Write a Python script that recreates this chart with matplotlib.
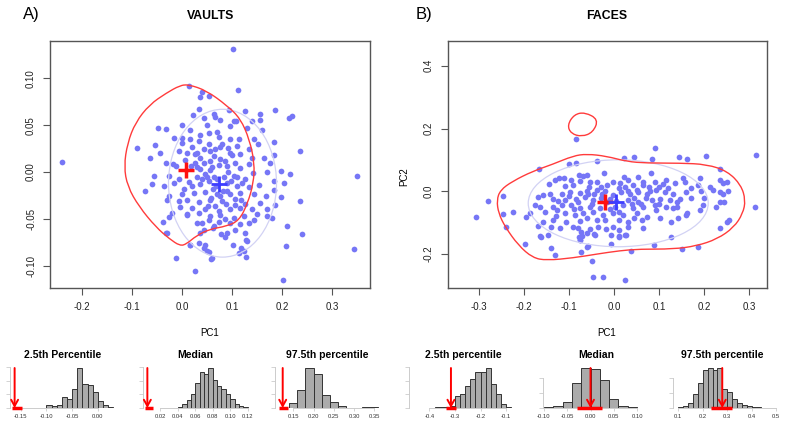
import numpy as np
import matplotlib
matplotlib.use('Agg')
import matplotlib.pyplot as plt
from matplotlib.path import Path
from matplotlib.patches import PathPatch, Ellipse
from matplotlib.ticker import FixedLocator, FormatStrFormatter, MaxNLocator, NullFormatter

plt.rcParams['font.family'] = ['Liberation Sans', 'DejaVu Sans']
plt.rcParams['axes.unicode_minus'] = False

W, H = 787, 430

# ---- panel A (VAULTS) points: PC1, PC2 ----
vaults_pts = [
    (0.101, 0.131), (0.111, 0.088), (0.013, 0.092), (0.039, 0.086), (0.035, 0.080), (0.053, 0.081),
    (0.186, 0.066), (0.214, 0.058), (0.156, 0.062), (0.155, 0.056), (0.033, 0.067), (0.021, 0.061),
    (0.063, 0.062), (0.043, 0.058), (0.065, 0.059), (0.076, 0.056), (0.103, 0.055), (0.108, 0.054),
    (-0.001, 0.050), (-0.049, 0.047), (-0.033, 0.046), (0.016, 0.045), (0.049, 0.050), (0.069, 0.043),
    (0.096, 0.049), (0.129, 0.047), (0.053, 0.042), (-0.017, 0.036), (-0.001, 0.036), (0.036, 0.039),
    (0.073, 0.037), (0.113, 0.035), (0.143, 0.035), (0.184, 0.032), (0.151, 0.030), (-0.054, 0.029),
    (-0.091, 0.026), (-0.001, 0.031), (0.033, 0.033), (0.053, 0.030), (0.019, 0.027), (0.043, 0.025),
    (0.076, 0.027), (0.091, 0.026), (0.109, 0.028), (0.133, 0.025), (-0.007, 0.022), (0.009, 0.020),
    (0.026, 0.019), (0.056, 0.022), (0.096, 0.020), (0.116, 0.019), (0.184, 0.018), (0.163, 0.015),
    (0.006, 0.013), (0.036, 0.015), (0.063, 0.017), (0.076, 0.014), (0.099, 0.018), (0.106, 0.010),
    (-0.033, 0.010), (-0.019, 0.009), (-0.013, 0.006), (0.026, 0.010), (0.043, 0.010), (0.055, 0.012),
    (0.133, 0.009), (0.073, 0.007), (0.017, 0.006), (0.036, 0.003), (0.056, 0.002), (0.089, 0.006),
    (0.116, 0.004), (0.141, -0.001), (0.169, 0.000), (0.198, 0.001), (0.215, -0.002), (0.236, 0.022),
    (-0.057, -0.004), (-0.027, -0.004), (-0.007, -0.008), (0.029, -0.005), (0.046, -0.002), (0.063, -0.005),
    (0.103, -0.004), (0.126, -0.007), (-0.061, -0.013), (-0.037, -0.015), (-0.017, -0.012), (0.013, -0.011),
    (0.036, -0.013), (0.053, -0.010), (0.089, -0.012), (0.109, -0.015), (0.133, -0.016), (0.153, -0.014),
    (0.183, -0.010), (0.204, -0.012), (0.183, -0.019), (-0.027, -0.026), (-0.001, -0.024), (0.023, -0.022),
    (0.046, -0.021), (0.069, -0.023), (0.096, -0.024), (0.116, -0.022), (0.143, -0.024), (0.168, -0.026),
    (0.198, -0.027), (0.236, -0.031), (-0.031, -0.030), (-0.007, -0.031), (0.009, -0.030), (0.033, -0.032),
    (0.056, -0.030), (0.079, -0.031), (0.106, -0.029), (0.126, -0.034), (0.156, -0.033), (0.186, -0.035),
    (-0.004, -0.037), (0.019, -0.039), (0.046, -0.040), (0.073, -0.042), (0.096, -0.040), (0.116, -0.039),
    (0.139, -0.040), (0.169, -0.040), (-0.021, -0.044), (-0.027, -0.048), (0.009, -0.046), (0.033, -0.044),
    (0.056, -0.047), (0.076, -0.046), (0.103, -0.049), (0.123, -0.047), (0.143, -0.051), (0.169, -0.047),
    (0.179, -0.049), (-0.039, -0.053), (0.029, -0.054), (0.053, -0.051), (0.073, -0.053), (0.096, -0.055),
    (0.116, -0.056), (0.133, -0.055), (0.209, -0.058), (-0.033, -0.065), (0.043, -0.062), (0.063, -0.058),
    (0.106, -0.062), (0.126, -0.065), (0.036, -0.065), (0.016, -0.078), (0.043, -0.081), (0.053, -0.085),
    (0.101, -0.078), (0.113, -0.087), (0.129, -0.074), (0.128, -0.091), (0.059, -0.092), (-0.013, -0.092),
    (0.025, -0.106), (0.208, -0.079), (0.201, -0.115), (-0.241, 0.011), (0.239, -0.066), (0.343, -0.082),
    (0.015, -0.078), (0.033, -0.076), (0.046, -0.078), (0.049, -0.084), (0.058, -0.093), (0.117, -0.081),
    (0.127, -0.073), (0.124, -0.084), (0.086, -0.070), (0.077, -0.066), (-0.031, -0.065), (0.350, -0.004),
    (0.062, -0.018), (0.081, -0.020), (0.070, -0.008), (0.058, -0.028), (0.088, -0.034), (0.066, -0.036),
    (0.092, 0.000), (0.080, 0.030), (0.020, -0.015), (0.004, -0.018), (0.030, 0.005), (0.110, -0.005),
    (0.118, -0.030), (0.085, -0.050), (0.040, -0.055), (0.150, -0.045), (0.160, 0.045), (0.140, 0.055),
    (0.125, 0.065), (0.093, 0.066), (0.175, 0.010), (-0.075, -0.020), (-0.045, 0.020), (-0.065, 0.015),
    (0.220, 0.060), (0.050, -0.005), (0.060, 0.005), (0.083, -0.005), (0.098, -0.010), (0.068, -0.015),
    (0.040, -0.008), (0.090, -0.020), (0.075, -0.026), (0.052, -0.036), (0.085, 0.012), (0.065, 0.025),
    (0.030, 0.020), (0.105, -0.035), (0.120, -0.012), (0.095, 0.035), (0.015, 0.035), (0.010, -0.045),
    (0.062, -0.060), (0.090, -0.065), (0.140, 0.015),
]

# ---- panel B (FACES) points ----
faces_pts = [
    (-0.084, 0.166), (0.090, 0.137), (0.315, 0.115), (0.022, 0.107), (0.045, 0.110), (0.084, 0.102),
    (0.144, 0.108), (0.161, 0.102), (0.204, 0.113), (-0.039, 0.098), (-0.100, 0.087), (-0.084, 0.089),
    (-0.168, 0.071), (0.235, 0.071), (0.081, 0.060), (-0.023, 0.059), (-0.078, 0.052), (-0.070, 0.050),
    (-0.060, 0.052), (0.022, 0.047), (0.053, 0.047), (-0.122, 0.041), (-0.111, 0.043), (-0.132, 0.036),
    (-0.096, 0.036), (-0.076, 0.033), (-0.039, 0.031), (-0.002, 0.031), (0.031, 0.036), (0.064, 0.031),
    (0.090, 0.031), (0.115, 0.036), (0.153, 0.043), (0.190, 0.041), (0.235, 0.036), (0.250, 0.031),
    (0.241, 0.028), (-0.053, 0.029), (-0.145, 0.023), (-0.110, 0.018), (-0.091, 0.020), (-0.055, 0.015),
    (-0.017, 0.020), (0.012, 0.025), (0.025, 0.015), (0.042, 0.020), (0.064, 0.020), (0.078, 0.015),
    (0.109, 0.023), (0.136, 0.025), (0.157, 0.031), (0.187, 0.020), (0.213, 0.013), (0.220, 0.004),
    (0.253, 0.001), (0.235, -0.001), (-0.158, -0.012), (-0.143, -0.009), (-0.117, -0.007), (-0.098, -0.001),
    (-0.076, -0.004), (-0.058, -0.007), (-0.039, 0.004), (-0.026, -0.007), (-0.002, -0.012), (0.016, -0.001),
    (0.035, -0.007), (0.053, -0.001), (0.072, -0.007), (0.094, 0.004), (0.113, -0.001), (0.131, -0.007),
    (0.159, -0.001), (0.194, 0.002), (0.242, -0.007), (-0.169, -0.017), (-0.137, -0.026), (-0.110, -0.028),
    (-0.084, -0.026), (-0.065, -0.017), (-0.047, -0.028), (-0.010, -0.023), (0.031, -0.028), (0.053, -0.033),
    (0.083, -0.028), (0.102, -0.023), (0.124, -0.028), (0.146, -0.026), (0.198, -0.044), (0.235, -0.033),
    (0.245, -0.033), (0.313, -0.049), (-0.248, -0.015), (-0.281, -0.032), (-0.176, -0.042), (-0.165, -0.049),
    (-0.136, -0.049), (-0.117, -0.044), (-0.095, -0.042), (-0.076, -0.054), (-0.054, -0.049), (-0.032, -0.054),
    (0.001, -0.049), (0.020, -0.044), (0.042, -0.054), (0.064, -0.049), (0.094, -0.060), (0.115, -0.051),
    (0.131, -0.054), (0.162, -0.070), (0.227, -0.049), (-0.224, -0.065), (-0.247, -0.073), (-0.186, -0.070),
    (-0.154, -0.065), (-0.128, -0.060), (-0.110, -0.070), (-0.087, -0.076), (-0.069, -0.070), (-0.047, -0.065),
    (-0.024, -0.076), (-0.002, -0.070), (0.020, -0.076), (0.050, -0.070), (0.072, -0.081), (0.102, -0.086),
    (0.190, -0.060), (-0.136, -0.092), (-0.158, -0.097), (-0.106, -0.097), (-0.076, -0.094), (-0.039, -0.092),
    (0.011, -0.090), (0.031, -0.097), (0.061, -0.092), (0.127, -0.097), (0.141, -0.086), (0.159, -0.076),
    (0.251, -0.097), (0.255, -0.092), (0.235, -0.118), (-0.195, -0.083), (-0.240, -0.115), (-0.141, -0.113),
    (-0.121, -0.118), (-0.091, -0.113), (-0.080, -0.118), (-0.054, -0.121), (-0.036, -0.113), (-0.019, -0.121),
    (-0.002, -0.115), (0.011, -0.123), (0.031, -0.113), (0.064, -0.118), (-0.165, -0.142), (-0.170, -0.111),
    (-0.078, -0.147), (-0.061, -0.134), (-0.043, -0.139), (-0.006, -0.139), (0.011, -0.145), (0.026, -0.139),
    (0.127, -0.145), (-0.076, -0.156), (-0.073, -0.129), (-0.061, -0.177), (-0.073, -0.193), (0.088, -0.171),
    (0.150, -0.185), (0.187, -0.177), (0.037, -0.190), (-0.198, -0.168), (-0.141, -0.182), (-0.132, -0.203),
    (-0.049, -0.222), (-0.047, -0.272), (-0.024, -0.272), (0.025, -0.283), (-0.306, -0.081), (-0.163, -0.144),
    (-0.148, -0.138), (-0.072, -0.142), (-0.075, -0.155), (-0.059, -0.174), (-0.044, -0.136), (-0.006, -0.169),
    (0.010, -0.142), (0.025, -0.138), (-0.030, -0.020), (-0.015, -0.035), (0.005, -0.030), (-0.050, -0.040),
    (0.045, -0.020), (0.060, -0.040), (-0.090, -0.055), (0.080, 0.000), (0.100, -0.040), (-0.020, 0.000),
    (0.010, 0.010), (0.030, 0.000), (-0.060, 0.000), (0.170, -0.020), (0.140, -0.050),
    (-0.045, -0.010), (-0.030, 0.015), (-0.010, -0.055), (0.040, -0.040), (0.070, -0.020), (0.090, -0.045),
    (-0.080, -0.035), (-0.100, -0.015), (-0.125, -0.030), (0.120, 0.010), (0.140, -0.035), (0.010, -0.065),
    (-0.060, -0.085), (0.050, 0.005), (0.100, 0.015), (-0.020, -0.090), (0.045, -0.085), (-0.130, -0.080),
    (0.170, 0.010), (0.200, -0.020),
]

# red density contours (vertices)
vaults_contour = [
    (0.013, 0.0935), (0.049, 0.087), (0.090, 0.071), (0.117, 0.057), (0.135, 0.0345), (0.145, 0.0096),
    (0.143, -0.0118), (0.131, -0.034), (0.114, -0.052), (0.089, -0.058), (0.056, -0.061), (0.029, -0.068),
    (0.009, -0.077), (-0.004, -0.079), (-0.025, -0.0715), (-0.052, -0.059), (-0.086, -0.0370),
    (-0.109, -0.0154), (-0.116, 0.006), (-0.109, 0.031), (-0.093, 0.053), (-0.065, 0.072),
    (-0.031, 0.0845), (-0.004, 0.0925),
]
faces_contour = [
    (-0.261, -0.028), (-0.253, 0.004), (-0.226, 0.032), (-0.181, 0.064), (-0.137, 0.086), (-0.091, 0.113),
    (-0.061, 0.119), (-0.017, 0.112), (0.028, 0.095), (0.072, 0.090), (0.146, 0.090), (0.206, 0.086),
    (0.252, 0.064), (0.282, 0.020), (0.292, -0.028), (0.286, -0.071), (0.266, -0.115), (0.229, -0.152),
    (0.183, -0.174), (0.131, -0.184), (0.057, -0.184), (0.013, -0.189), (-0.039, -0.200), (-0.091, -0.212),
    (-0.150, -0.220), (-0.181, -0.212), (-0.213, -0.172), (-0.242, -0.114), (-0.257, -0.070),
]
faces_contour_small = [
    (-0.104, 0.211), (-0.089, 0.245), (-0.065, 0.252), (-0.035, 0.229), (-0.047, 0.188), (-0.072, 0.174),
    (-0.096, 0.184),
]

# blue ellipse (centre, width, height) and mean / reference crosses
vaults_ellipse = ((0.081, -0.012), 0.216, 0.158)
faces_ellipse = ((0.009, -0.038), 0.400, 0.277)
vaults_red, vaults_blue = (0.007, 0.0017), (0.073, -0.0128)
faces_red, faces_blue = (-0.021, -0.035), (0.003, -0.033)

# ---- bootstrap histograms: bin start, bin width, counts, observed value, red interval ----
h_titles = ['2.5th Percentile', 'Median', '97.5th percentile',
            '2.5th percentile', 'Median', '97.5th percentile']
h_start = [-0.13, 0.025, 0.14, -0.46, -0.12, 0.08]
h_width = [0.01, 0.005, 0.02, 0.02, 0.02, 0.02]
h_counts = [
    [1, 1, 1, 10, 5, 8, 33, 27, 57, 117, 70, 66, 47, 20, 10, 3],
    [0.5, 0.5, 1, 3, 12, 22, 40, 73, 105, 100, 117, 83, 63, 55, 40, 25, 12, 5, 2],
    [15, 52, 117, 99, 37, 19, 5, 1, 1, 2, 2],
    [1, 1, 1, 1, 2, 2, 4, 6, 35, 42, 63, 85, 105, 105, 117, 70, 40, 13, 2],
    [0.5, 1, 2, 6, 25, 40, 39, 28, 9, 2, 1, 0.5],
    [0.5, 1, 2, 5, 14, 25, 38, 40, 38, 40, 19, 16, 9, 5, 3, 2, 1, 1, 0.5, 0.5, 0.5],
]
h_observed = [-0.162, 0.005, 0.124, -0.316, 0.0, 0.28]
h_interval = [(-0.167, -0.148), (0.002, 0.0115), (0.114, 0.136), (-0.337, -0.297), (-0.028, 0.024), (0.235, 0.32)]
h_ticks = [[-0.15, -0.10, -0.05, 0.00], [0.02, 0.04, 0.06, 0.08, 0.10, 0.12],
           [0.15, 0.20, 0.25, 0.30, 0.35], [-0.4, -0.3, -0.2, -0.1],
           [-0.10, -0.05, 0.00, 0.05, 0.10], [0.1, 0.2, 0.3, 0.4, 0.5]]
h_fmt = ['%.2f', '%.2f', '%.2f', '%.1f', '%.2f', '%.1f']
h_xlim = [(-0.171, 0.053), (0.0, 0.125), (0.105, 0.369), (-0.48, -0.046), (-0.102, 0.117), (0.078, 0.525)]
h_px = [(10, 125), (143, 252), (275, 382), (409, 520), (543, 645), (673, 782)]
h_title_x = [63, 195, 327, 463, 596, 722]

PT = '#7676f6'
fig = plt.figure(figsize=(W / 100, H / 100), dpi=100)


def rect(x0, y0, x1, y1):
    return [x0 / W, 1 - y1 / H, (x1 - x0) / W, (y1 - y0) / H]


def smooth_loop(ax, pts, **kw):
    pts = np.asarray(pts)
    mids = (pts + np.roll(pts, -1, axis=0)) / 2
    verts = [mids[-1]]
    codes = [Path.MOVETO]
    for i in range(len(pts)):
        verts += [pts[i], mids[i]]
        codes += [Path.CURVE3, Path.CURVE3]
    ax.add_patch(PathPatch(Path(verts, codes), fill=False, **kw))


def scatter_panel(r, pts, loops, ell, red, blue, xlim, ylim, xticks, yticks, xfmt, yfmt):
    ax = fig.add_axes(r)
    xs, ys = zip(*pts)
    ax.scatter(xs, ys, s=17, color=PT, linewidths=0, zorder=2)
    ax.add_patch(Ellipse(ell[0], ell[1], ell[2], fill=False, ec='#d2d2f4', lw=0.9, zorder=3))
    for lp in loops:
        smooth_loop(ax, lp, ec='#ff3b3b', lw=1.0, zorder=4)
    ax.plot(*red, marker='+', ms=12, mew=2.5, color='#ff1010', zorder=5)
    ax.plot(*blue, marker='+', ms=12, mew=2.0, color='#3d3dff', zorder=6)
    ax.set_xlim(*xlim)
    ax.set_ylim(*ylim)
    ax.xaxis.set_major_locator(FixedLocator(xticks))
    ax.yaxis.set_major_locator(FixedLocator(yticks))
    ax.xaxis.set_major_formatter(FormatStrFormatter(xfmt))
    ax.yaxis.set_major_formatter(FormatStrFormatter(yfmt))
    for s in ax.spines.values():
        s.set_color('#555555')
        s.set_linewidth(1.0)
    ax.tick_params(direction='out', length=5, width=0.8, color='#555555',
                   labelsize=7, labelcolor='#222222', pad=5)
    for lab in ax.get_yticklabels():
        lab.set_rotation(90)
        lab.set_va('center')
    return ax


scatter_panel(rect(50, 41, 370, 288), vaults_pts, [vaults_contour], vaults_ellipse,
              vaults_red, vaults_blue, (-0.264, 0.376), (-0.124, 0.140),
              [-0.2, -0.1, 0.0, 0.1, 0.2, 0.3], [-0.10, -0.05, 0.00, 0.05, 0.10], '%.1f', '%.2f')
scatter_panel(rect(447.7, 41, 766.7, 288), faces_pts, [faces_contour, faces_contour_small],
              faces_ellipse, faces_red, faces_blue, (-0.370, 0.339), (-0.308, 0.479),
              [-0.3, -0.2, -0.1, 0.0, 0.1, 0.2, 0.3], [-0.2, 0.0, 0.2, 0.4], '%.1f', '%.1f')

fig.text(23 / W, 1 - 15 / H, 'A)', fontsize=12, ha='left', va='center')
fig.text(416 / W, 1 - 15 / H, 'B)', fontsize=12, ha='left', va='center')
fig.text(211 / W, 1 - 16 / H, 'VAULTS', fontsize=8.8, fontweight='bold', ha='center', va='center')
fig.text(607 / W, 1 - 16 / H, 'FACES', fontsize=8.8, fontweight='bold', ha='center', va='center')
fig.text(210 / W, 1 - 333 / H, 'PC1', fontsize=7, ha='center', va='center')
fig.text(607 / W, 1 - 333 / H, 'PC1', fontsize=7, ha='center', va='center')
fig.text(404 / W, 1 - 177 / H, 'PC2', fontsize=7, rotation=90, ha='center', va='center')

for i in range(6):
    counts = np.asarray(h_counts[i], dtype=float)
    edges = h_start[i] + h_width[i] * np.arange(len(counts) + 1)
    x0, x1 = h_px[i]
    ax = fig.add_axes(rect(x0, 365, x1, 408))
    ax.bar(edges[:-1], counts, width=h_width[i], align='edge', color='#ababab',
           edgecolor='#333333', linewidth=0.7, zorder=2)
    top = counts.max() * 1.075
    ax.set_ylim(0, top)
    ax.set_xlim(*h_xlim[i])
    ax.annotate('', xy=(h_observed[i], 0), xycoords='data',
                xytext=(h_observed[i], 0.93), textcoords=('data', 'axes fraction'),
                arrowprops=dict(arrowstyle='->,head_length=0.45,head_width=0.25', color='#ff0000',
                                lw=1.4, shrinkA=0, shrinkB=0), zorder=5)
    ax.plot(h_interval[i], [0, 0], color='#ff0000', lw=2.5, solid_capstyle='butt',
            clip_on=False, zorder=4)
    for s in ['top', 'right']:
        ax.spines[s].set_visible(False)
    ax.spines['left'].set_color('#cccccc')
    ax.spines['bottom'].set_color('#cccccc')
    ax.spines['left'].set_linewidth(0.7)
    ax.spines['bottom'].set_linewidth(0.7)
    ax.yaxis.set_major_locator(MaxNLocator(4))
    ax.yaxis.set_major_formatter(NullFormatter())
    ax.spines['left'].set_bounds(0, ax.get_yticks()[ax.get_yticks() <= top][-1])
    ax.xaxis.set_major_locator(FixedLocator(h_ticks[i]))
    ax.xaxis.set_major_formatter(FormatStrFormatter(h_fmt[i]))
    ax.spines['bottom'].set_bounds(h_ticks[i][0], h_ticks[i][-1])
    ax.tick_params(axis='y', length=3, width=0.6, color='#cccccc')
    ax.tick_params(axis='x', length=2.5, width=0.6, color='#cccccc', labelsize=4.2,
                   labelcolor='#333333', pad=2)
    ax.patch.set_alpha(0)
    fig.text(h_title_x[i] / W, 1 - 355 / H, h_titles[i], fontsize=7.5, fontweight='bold',
             ha='center', va='center')

fig.savefig('out.png', dpi=100)
